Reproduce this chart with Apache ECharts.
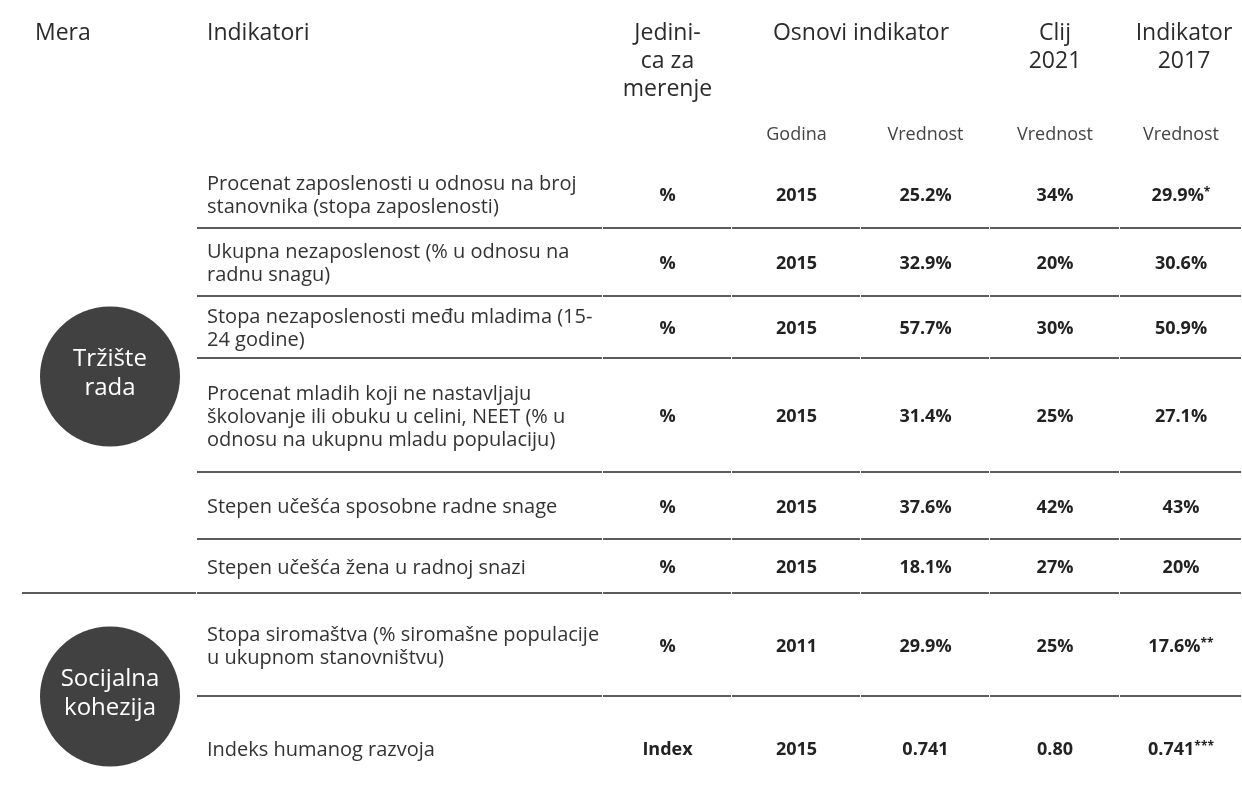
<!DOCTYPE html>
<html>
<head>
<meta charset="utf-8">
<script src="https://cdn.jsdelivr.net/npm/echarts@6/dist/echarts.min.js"></script>
<style>
  html, body { margin: 0; padding: 0; background: #fff; }
  #main { width: 1242px; height: 793px; }
</style>
</head>
<body>
<div id="main"></div>
<script>
// table content
var measures = ["Tržište\nrada", "Socijalna\nkohezija"];
var measureRows = [[0, 5], [6, 7]];
var indicators = [
  "Procenat zaposlenosti u odnosu na broj\nstanovnika (stopa zaposlenosti)",
  "Ukupna nezaposlenost (% u odnosu na\nradnu snagu)",
  "Stopa nezaposlenosti među mladima (15-\n24 godine)",
  "Procenat mladih koji ne nastavljaju\nškolovanje ili obuku u celini, NEET (% u\nodnosu na ukupnu mladu populaciju)",
  "Stepen učešća sposobne radne snage",
  "Stepen učešća žena u radnoj snazi",
  "Stopa siromaštva (% siromašne populacije\nu ukupnom stanovništvu)",
  "Indeks humanog razvoja"
];
var units = ["%", "%", "%", "%", "%", "%", "%", "Index"];
var baseYears = ["2015", "2015", "2015", "2015", "2015", "2015", "2011", "2015"];
var baseValues = ["25.2%", "32.9%", "57.7%", "31.4%", "37.6%", "18.1%", "29.9%", "0.741"];
var target2021 = ["34%", "20%", "30%", "25%", "42%", "27%", "25%", "0.80"];
var value2017 = ["29.9%*", "30.6%", "50.9%", "27.1%", "43%", "20%", "17.6%**", "0.741***"];
var headers = ["Mera", "Indikatori", "Jedini-\nca za\nmerenje", "Osnovi indikator", "Clij\n2021", "Indikator\n2017"];
var subHeaders = ["Godina", "Vrednost", "Vrednost", "Vrednost"];

// layout (in axis units = px)
var W = 1242, H = 793;
var colEdges = [22, 197, 603, 732, 861, 990, 1120, 1242];
var rowEdges = [160, 228, 296, 358, 472, 539, 593, 696, 800];
var FONT = "'Open Sans', 'Noto Sans', sans-serif";

function mid(a, b) { return (a + b) / 2; }
function colMid(c) { return mid(colEdges[c], colEdges[c + 1]); }

// build cells
var cells = [];
var headX = [35, 207, colMid(2), mid(colEdges[3], colEdges[5]), colMid(5), colMid(6) + 3];
headers.forEach(function (h, i) {
  cells.push({ value: [headX[i], 19], text: h, kind: "head", align: i < 2 ? "left" : "center" });
});
subHeaders.forEach(function (s, i) {
  cells.push({ value: [colMid(3 + i), 135], text: s, kind: "sub", align: "center" });
});
indicators.forEach(function (t, r) {
  var y = mid(rowEdges[r], rowEdges[r + 1]) + 2;
  cells.push({ value: [207, y], text: t, kind: "body", align: "left" });
  [units, baseYears, baseValues, target2021, value2017].forEach(function (arr, k) {
    cells.push({ value: [colMid(2 + k), y], text: arr[r], kind: "val", align: "center" });
  });
});

// horizontal rules
var rules = [];
for (var r = 1; r < rowEdges.length - 1; r++) {
  var fromCol = (r === 6) ? 0 : 1;
  for (var c = fromCol; c < colEdges.length - 1; c++) {
    rules.push([colEdges[c], colEdges[c + 1] - 1, rowEdges[r]]);
  }
}

// measure circles
var circles = measureRows.map(function (g) {
  return [110, mid(rowEdges[g[0]], rowEdges[g[1] + 1])];
});

var styles = {
  head: { fontSize: 23, lineHeight: 28, fill: "#2b2b2b", fontWeight: 400, verticalAlign: "top" },
  sub: { fontSize: 18, lineHeight: 22, fill: "#444", fontWeight: 400, verticalAlign: "middle" },
  body: { fontSize: 20, lineHeight: 23, fill: "#333", fontWeight: 400, verticalAlign: "middle" },
  val: { fontSize: 18, lineHeight: 22, fill: "#222", fontWeight: 700, verticalAlign: "middle" }
};

var chart = echarts.init(document.getElementById("main"));
chart.setOption({
  animation: false,
  grid: { left: 0, right: 0, top: 0, bottom: 0 },
  xAxis: { type: "value", min: 0, max: W, show: false },
  yAxis: { type: "value", min: 0, max: H, inverse: true, show: false },
  series: [
    {
      type: "custom",
      name: "rules",
      data: rules,
      renderItem: function (params, api) {
        var p1 = api.coord([api.value(0), api.value(2)]);
        var p2 = api.coord([api.value(1), api.value(2)]);
        return {
          type: "line",
          shape: { x1: p1[0], y1: p1[1], x2: p2[0], y2: p2[1] },
          style: { stroke: "#5c5c5c", lineWidth: 2 }
        };
      }
    },
    {
      type: "custom",
      name: "measures",
      data: circles,
      renderItem: function (params, api) {
        var p = api.coord([api.value(0), api.value(1)]);
        return {
          type: "group",
          children: [
            { type: "circle", shape: { cx: p[0], cy: p[1], r: 70 }, style: { fill: "#414141" } },
            {
              type: "text", x: p[0], y: p[1] - 3,
              style: {
                text: measures[params.dataIndex], fill: "#fff", fontSize: 24, lineHeight: 29,
                fontFamily: FONT, align: "center", verticalAlign: "middle"
              }
            }
          ]
        };
      }
    },
    {
      type: "custom",
      name: "cells",
      data: cells.map(function (d) { return d.value; }),
      renderItem: function (params, api) {
        var cell = cells[params.dataIndex];
        var p = api.coord([api.value(0), api.value(1)]);
        var st = styles[cell.kind];
        var text = cell.text;
        var rich = null;
        var m = text.match(/^(.*?)(\*+)$/);
        if (m) {
          text = "{a|" + m[1] + "}{s|" + m[2] + "}";
          rich = {
            a: { fontSize: st.fontSize, fontWeight: 700, fill: st.fill, fontFamily: FONT },
            s: { fontSize: 12, fontWeight: 700, fill: st.fill, fontFamily: FONT, padding: [0, 0, 6, 0] }
          };
        }
        return {
          type: "text", x: p[0], y: p[1],
          style: {
            text: text, rich: rich, fill: st.fill, fontSize: st.fontSize, lineHeight: st.lineHeight,
            fontWeight: st.fontWeight, fontFamily: FONT, align: cell.align, verticalAlign: st.verticalAlign
          }
        };
      }
    }
  ]
});
</script>
</body>
</html>
